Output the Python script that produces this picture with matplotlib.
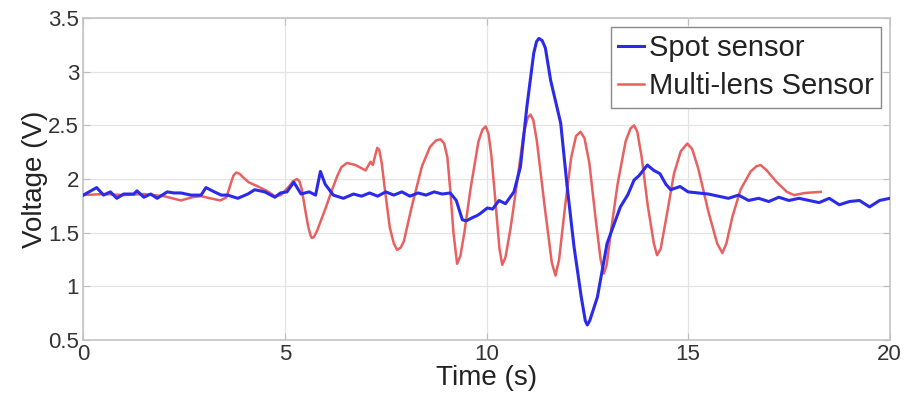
import numpy as np
import matplotlib
matplotlib.use('Agg')
from matplotlib import pyplot as plt

plt.rcParams['font.family'] = ['Liberation Sans', 'DejaVu Sans']

# Spot sensor (blue)
spot_t = [0, 0.33, 0.5, 0.67, 0.83, 1.0, 1.25, 1.33, 1.5, 1.67, 1.83, 2.08, 2.25, 2.42,
          2.67, 2.92, 3.04, 3.25, 3.42, 3.58, 3.83, 4.08, 4.25, 4.5, 4.75, 4.89, 5.05, 5.22,
          5.4, 5.6, 5.76, 5.88, 6.0, 6.2, 6.45, 6.7, 6.9, 7.1, 7.3, 7.5, 7.7, 7.9, 8.1,
          8.3, 8.5, 8.7, 8.9, 9.1, 9.25, 9.4, 9.5, 9.65, 9.77, 9.85, 10.02, 10.15, 10.31,
          10.47, 10.68, 10.84, 11.0, 11.17, 11.24, 11.3, 11.38, 11.46, 11.59, 11.84, 12.0,
          12.17, 12.35, 12.45, 12.5, 12.56, 12.75, 12.99, 13.32, 13.5, 13.66, 13.78, 13.99,
          14.15, 14.3, 14.45, 14.57, 14.8, 15.0, 15.25, 15.5, 15.75, 16.0, 16.25, 16.5,
          16.75, 17.0, 17.25, 17.5, 17.75, 18.0, 18.25, 18.5, 18.75, 19.0, 19.25, 19.5,
          19.75, 20.0]
spot_v = [1.85, 1.92, 1.85, 1.88, 1.82, 1.86, 1.86, 1.89, 1.83, 1.86, 1.82, 1.88, 1.87, 1.87,
          1.85, 1.85, 1.92, 1.88, 1.85, 1.85, 1.82, 1.86, 1.90, 1.88, 1.83, 1.87, 1.88, 1.97,
          1.86, 1.88, 1.85, 2.07, 1.95, 1.85, 1.82, 1.86, 1.84, 1.87, 1.84, 1.88, 1.85,
          1.88, 1.84, 1.87, 1.85, 1.88, 1.86, 1.87, 1.80, 1.62, 1.61, 1.64, 1.66, 1.68,
          1.73, 1.72, 1.80, 1.77, 1.88, 2.11, 2.67, 3.17, 3.28, 3.31, 3.29, 3.22, 2.92,
          2.52, 1.93, 1.37, 0.90, 0.68, 0.64, 0.68, 0.90, 1.40, 1.74, 1.85, 1.99, 2.03,
          2.13, 2.08, 2.05, 1.95, 1.90, 1.93, 1.88, 1.87, 1.86, 1.84, 1.82, 1.85, 1.80,
          1.82, 1.79, 1.83, 1.80, 1.82, 1.80, 1.78, 1.82, 1.76, 1.79, 1.80, 1.74, 1.80,
          1.82]

# Multi-lens sensor (red)
lens_t = [0, 0.5, 1.0, 1.5, 2.0, 2.42, 2.7, 2.92, 3.15, 3.4, 3.55, 3.65, 3.72, 3.79, 3.87,
          3.95, 4.1, 4.33, 4.55, 4.75, 4.9, 5.1, 5.2, 5.3, 5.36, 5.42, 5.5, 5.58, 5.64,
          5.67, 5.72, 5.8, 6.0, 6.15, 6.3, 6.4, 6.54, 6.75, 6.9, 7.0, 7.12, 7.18, 7.24,
          7.29, 7.34, 7.4, 7.48, 7.6, 7.7, 7.78, 7.87, 7.95, 8.15, 8.4, 8.6, 8.75, 8.86,
          8.95, 9.03, 9.1, 9.18, 9.27, 9.35, 9.45, 9.6, 9.8, 9.9, 9.98, 10.05, 10.12,
          10.22, 10.32, 10.39, 10.47, 10.6, 10.75, 10.92, 11.02, 11.09, 11.16, 11.25,
          11.45, 11.62, 11.71, 11.8, 11.95, 12.1, 12.22, 12.33, 12.43, 12.55, 12.7, 12.83,
          12.91, 12.98, 13.1, 13.25, 13.45, 13.57, 13.66, 13.74, 13.85, 14.0, 14.15,
          14.23, 14.32, 14.45, 14.65, 14.82, 14.98, 15.1, 15.25, 15.5, 15.72, 15.85,
          15.95, 16.1, 16.3, 16.55, 16.7, 16.8, 16.95, 17.2, 17.45, 17.63, 17.9, 18.29]
lens_v = [1.85, 1.86, 1.85, 1.86, 1.84, 1.80, 1.83, 1.84, 1.82, 1.80, 1.83, 1.95, 2.03,
          2.06, 2.05, 2.02, 1.97, 1.93, 1.89, 1.84, 1.85, 1.93, 1.98, 2.00, 1.98, 1.90,
          1.72, 1.55, 1.47, 1.45, 1.46, 1.52, 1.72, 1.88, 2.03, 2.11, 2.15, 2.13, 2.10,
          2.08, 2.16, 2.13, 2.22, 2.29, 2.27, 2.15, 1.90, 1.55, 1.40, 1.34, 1.36, 1.42,
          1.75, 2.12, 2.30, 2.36, 2.37, 2.33, 2.20, 1.90, 1.50, 1.21, 1.28, 1.50, 1.90,
          2.35, 2.46, 2.49, 2.42, 2.22, 1.80, 1.35, 1.20, 1.27, 1.55, 1.95, 2.42, 2.57,
          2.60, 2.55, 2.35, 1.72, 1.22, 1.10, 1.25, 1.75, 2.20, 2.40, 2.44, 2.38, 2.15,
          1.65, 1.25, 1.12, 1.20, 1.55, 1.95, 2.35, 2.47, 2.50, 2.44, 2.20, 1.75, 1.40,
          1.29, 1.35, 1.62, 2.05, 2.26, 2.33, 2.28, 2.10, 1.70, 1.40, 1.31, 1.40, 1.65,
          1.90, 2.07, 2.12, 2.13, 2.08, 1.97, 1.88, 1.85, 1.87, 1.88]

xticks = [0, 5, 10, 15, 20]
yticks = [0.5, 1, 1.5, 2, 2.5, 3, 3.5]
ytick_labels = ['0.5', '1', '1.5', '2', '2.5', '3', '3.5']

fig = plt.figure(figsize=(9.06, 4), dpi=100)
ax = fig.add_axes([0.092, 0.15, 0.89, 0.805])

ax.plot(spot_t, spot_v, color='#2a2ae8', lw=2.2, label='Spot sensor', zorder=3,
        solid_joinstyle='round')
ax.plot(lens_t, lens_v, color='#e86060', lw=1.8, label='Multi-lens Sensor', zorder=2,
        solid_joinstyle='round')

ax.set_xlim(0, 20)
ax.set_ylim(0.5, 3.5)
ax.set_xticks(xticks)
ax.set_yticks(yticks)
ax.set_yticklabels(ytick_labels)
ax.grid(True, color='#e4e4e4', lw=0.9)
ax.set_axisbelow(True)
ax.tick_params(direction='in', top=True, right=True, labelsize=16, colors='#bdbdbd',
               labelcolor='#333333', length=5, pad=3)
for s in ax.spines.values():
    s.set_color('#c4c4c4')
    s.set_linewidth(1.2)

ax.set_xlabel('Time (s)', fontsize=20, color='#222222', labelpad=0)
ax.set_ylabel('Voltage (V)', fontsize=20, color='#222222', labelpad=0)

leg = ax.legend(loc='upper right', fontsize=21, handlelength=0.9, handletextpad=0.15,
                borderpad=0.25, labelspacing=0.35, fancybox=False, framealpha=1,
                borderaxespad=0.3)
leg.get_frame().set_edgecolor('#888888')
leg.get_frame().set_linewidth(1.0)
for t in leg.get_texts():
    t.set_color('#222222')

plt.savefig('out.png', dpi=100)
